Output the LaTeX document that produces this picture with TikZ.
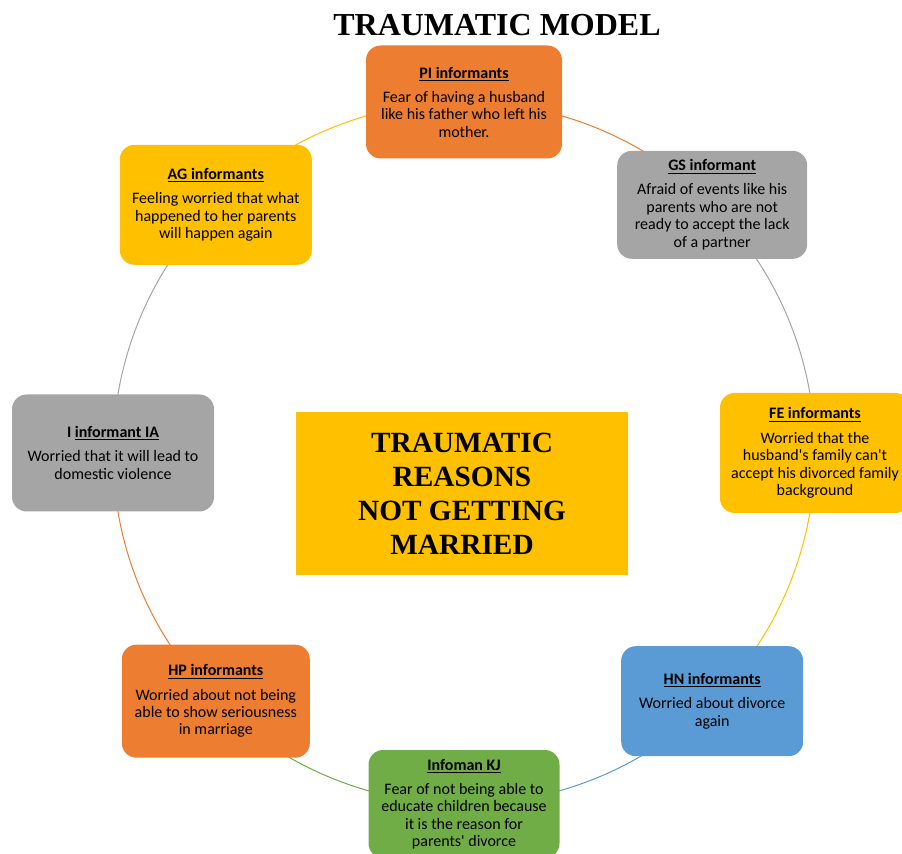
\documentclass[tikz,border=0pt]{standalone}
\usepackage{fontspec}
\setmainfont{Carlito}
\newfontfamily\serifbf{Liberation Serif}
\usetikzlibrary{calc,backgrounds}

\definecolor{cOrange}{HTML}{ED7D31}
\definecolor{cGray}{HTML}{A5A5A5}
\definecolor{cGold}{HTML}{FFC000}
\definecolor{cBlue}{HTML}{5B9BD5}
\definecolor{cGreen}{HTML}{70AD47}

\newcommand\hd[1]{\underline{\textbf{#1}}}

\tikzset{
	box/.style={
		rounded corners=11pt
		,align=center
		,inner sep=2pt
		,text=black
		,font=\fontsize{12}{13.1}\selectfont
	}
	,boxsize/.style 2 args={minimum width=#1*0.75pt, minimum height=#2*0.75pt}
	,link/.style={line width=0.75pt}
}

\begin{document}
\begin{tikzpicture}[x=0.75pt,y=0.75pt]

\clip (0,0) rectangle (902,853);
\coordinate (c) at (464,400);

\node[font=\serifbf\bfseries\fontsize{24}{28}\selectfont](ttl) at(497,828) {TRAUMATIC MODEL};

\node[fill=cGold, align=center, minimum width=249pt, minimum height=122pt
	,font=\serifbf\bfseries\fontsize{22}{25.5}\selectfont](core) at(462,359.5)
	{TRAUMATIC\\REASONS\\NOT GETTING\\MARRIED};

% ring of informants
\node[box, fill=cOrange, boxsize={196}{113}](pi) at($(c)+(90:351)$)
	{\hd{PI informants}\\[5pt]Fear of having a husband\\like his father who left his\\mother.};
\node[box, fill=cGray, boxsize={190}{108}](gs) at($(c)+(45:351)$)
	{\hd{GS informant}\\[5pt]Afraid of events like his\\parents who are not\\ready to accept the lack\\of a partner};
\node[box, fill=cGold, boxsize={190}{120}](fe) at($(c)+(0:351)$)
	{\hd{FE informants}\\[5pt]Worried that the\\husband\textquotesingle s family can\textquotesingle t\\accept his divorced family\\background};
\node[box, fill=cBlue, boxsize={182}{110}](hn) at($(c)+(-45:351)$)
	{\hd{HN informants}\\[5pt]Worried about divorce\\again};
\node[box, fill=cGreen, boxsize={191}{108}](kj) at($(c)+(-90:351)$)
	{\hd{Infoman KJ}\\[5pt]Fear of not being able to\\educate children because\\it is the reason for\\parents\textquotesingle{} divorce};
\node[box, fill=cOrange, boxsize={188}{113}](hp) at($(c)+(-135:351)$)
	{\hd{HP informants}\\[5pt]Worried about not being\\able to show seriousness\\in marriage};
\node[box, fill=cGray, boxsize={202}{117}](ia) at($(c)+(180:351)$)
	{\textbf{I} \hd{informant IA}\\[5pt]Worried that it will lead to\\domestic violence};
\node[box, fill=cGold, boxsize={192}{120}](ag) at($(c)+(135:351)$)
	{\hd{AG informants}\\[5pt]Feeling worried that what\\happened to her parents\\will happen again};

\begin{scope}[on background layer]
\foreach \u/\a/\col in {
	ag/135/cGold,pi/90/cOrange,gs/45/cGray%
	,fe/0/cGold,hn/-45/cBlue,kj/-90/cGreen%
	,hp/-135/cOrange,ia/-180/cGray%
}{
	\draw[link, \col] (\u.center) arc[start angle=\a, delta angle=-45, radius=351];
}
\end{scope}

\end{tikzpicture}
\end{document}
